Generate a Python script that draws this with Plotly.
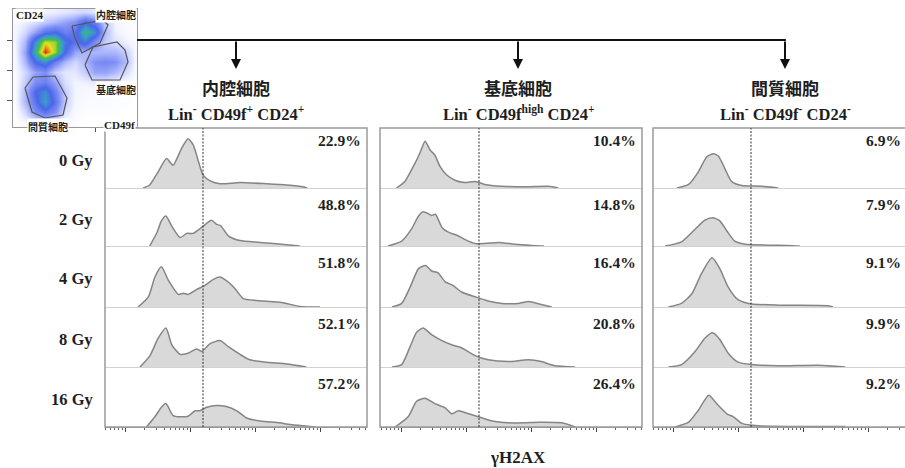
import math
import plotly.graph_objects as go

W, H = 905, 468

# ---------------- data ----------------
doses = ["0 Gy", "2 Gy", "4 Gy", "8 Gy", "16 Gy"]
populations = ["内腔細胞", "基底細胞", "間質細胞"]
phenotypes = [
    "Lin<sup>-</sup> CD49f<sup>+</sup> CD24<sup>+</sup>",
    "Lin<sup>-</sup> CD49f<sup>high</sup> CD24<sup>+</sup>",
    "Lin<sup>-</sup> CD49f<sup>-</sup> CD24<sup>-</sup>",
]
pct_luminal = ["22.9%", "48.8%", "51.8%", "52.1%", "57.2%"]
pct_basal = ["10.4%", "14.8%", "16.4%", "20.8%", "26.4%"]
pct_stromal = ["6.9%", "7.9%", "9.1%", "9.9%", "9.2%"]
gate_log = 2.2  # gH2AX positive gate (log10 fluorescence)
x_axis_title = "γH2AX"

# histograms: x = log10 gH2AX fluorescence, y = relative count
lum0_x = [1.28, 1.38, 1.51, 1.64, 1.74, 1.87, 1.97, 2.05, 2.13, 2.20, 2.31, 2.46, 2.77, 3.18, 3.49, 3.74, 3.80]
lum0_y = [0, 0.05, 0.27, 0.49, 0.38, 0.66, 0.82, 0.72, 0.44, 0.22, 0.12, 0.07, 0.09, 0.07, 0.05, 0.02, 0]
lum2_x = [1.38, 1.49, 1.56, 1.63, 1.72, 1.85, 1.95, 2.05, 2.18, 2.33, 2.41, 2.47, 2.59, 2.77, 3.08, 3.49, 3.69]
lum2_y = [0, 0.22, 0.42, 0.50, 0.33, 0.14, 0.21, 0.21, 0.31, 0.43, 0.36, 0.34, 0.17, 0.09, 0.06, 0.02, 0]
lum4_x = [1.20, 1.36, 1.46, 1.56, 1.67, 1.82, 1.90, 1.97, 2.10, 2.23, 2.36, 2.46, 2.56, 2.69, 2.82, 3.03, 3.23, 3.43, 3.69, 4.00]
lum4_y = [0, 0.17, 0.50, 0.67, 0.44, 0.21, 0.23, 0.21, 0.29, 0.36, 0.46, 0.50, 0.44, 0.31, 0.14, 0.11, 0.09, 0.07, 0.01, 0]
lum8_x = [1.23, 1.38, 1.51, 1.63, 1.72, 1.85, 1.97, 2.10, 2.18, 2.31, 2.46, 2.59, 2.77, 2.92, 3.18, 3.49, 3.79]
lum8_y = [0, 0.18, 0.48, 0.65, 0.37, 0.21, 0.23, 0.30, 0.26, 0.39, 0.44, 0.34, 0.21, 0.12, 0.08, 0.05, 0]
lum16_x = [1.33, 1.46, 1.56, 1.63, 1.74, 1.85, 1.97, 2.08, 2.15, 2.26, 2.41, 2.56, 2.72, 2.87, 3.08, 3.38, 3.54, 3.85, 3.92]
lum16_y = [0, 0.17, 0.33, 0.39, 0.19, 0.17, 0.18, 0.27, 0.27, 0.33, 0.36, 0.34, 0.27, 0.15, 0.10, 0.07, 0.04, 0.01, 0]

bas0_x = [0.93, 1.06, 1.19, 1.29, 1.37, 1.45, 1.52, 1.60, 1.70, 1.83, 1.98, 2.14, 2.29, 2.55, 2.91, 3.27, 3.42]
bas0_y = [0, 0.11, 0.36, 0.58, 0.78, 0.63, 0.55, 0.36, 0.22, 0.13, 0.09, 0.11, 0.06, 0.03, 0.02, 0.03, 0]
bas2_x = [0.80, 1.01, 1.16, 1.27, 1.34, 1.42, 1.47, 1.53, 1.63, 1.73, 1.86, 1.98, 2.14, 2.29, 2.50, 2.75, 3.01, 3.20]
bas2_y = [0, 0.08, 0.28, 0.50, 0.57, 0.54, 0.51, 0.53, 0.31, 0.23, 0.18, 0.11, 0.04, 0.04, 0.06, 0.03, 0.01, 0]
bas4_x = [0.86, 1.01, 1.14, 1.27, 1.38, 1.47, 1.57, 1.68, 1.80, 1.93, 2.14, 2.34, 2.55, 2.81, 2.96, 3.16, 3.32]
bas4_y = [0, 0.06, 0.33, 0.64, 0.69, 0.60, 0.57, 0.42, 0.36, 0.25, 0.17, 0.10, 0.06, 0.06, 0.09, 0.04, 0]
bas8_x = [0.86, 1.01, 1.14, 1.24, 1.34, 1.47, 1.63, 1.78, 1.93, 2.14, 2.34, 2.65, 2.96, 3.16, 3.37, 3.68]
bas8_y = [0, 0.04, 0.34, 0.58, 0.65, 0.54, 0.44, 0.37, 0.32, 0.19, 0.12, 0.09, 0.12, 0.09, 0.02, 0]
bas16_x = [0.91, 1.11, 1.24, 1.37, 1.52, 1.68, 1.78, 1.88, 2.04, 2.19, 2.40, 2.65, 2.91, 3.11, 3.47, 3.68]
bas16_y = [0, 0.17, 0.43, 0.48, 0.39, 0.32, 0.22, 0.27, 0.22, 0.17, 0.10, 0.07, 0.07, 0.08, 0.07, 0]

str0_x = [1.06, 1.24, 1.39, 1.52, 1.62, 1.70, 1.80, 1.90, 2.06, 2.36, 2.62]
str0_y = [0, 0.06, 0.27, 0.52, 0.57, 0.53, 0.32, 0.11, 0.04, 0.03, 0]
str2_x = [0.88, 1.13, 1.34, 1.49, 1.61, 1.72, 1.83, 1.95, 2.11, 2.77, 2.95]
str2_y = [0, 0.07, 0.28, 0.43, 0.47, 0.42, 0.25, 0.08, 0.03, 0.01, 0]
str4_x = [0.93, 1.13, 1.29, 1.44, 1.60, 1.72, 1.85, 1.98, 2.16, 2.62, 3.39, 3.46]
str4_y = [0, 0.06, 0.22, 0.56, 0.82, 0.64, 0.33, 0.14, 0.06, 0.03, 0.02, 0]
str8_x = [0.93, 1.13, 1.34, 1.49, 1.61, 1.72, 1.85, 2.00, 2.21, 2.62, 3.24, 3.65]
str8_y = [0, 0.04, 0.26, 0.48, 0.57, 0.46, 0.23, 0.08, 0.04, 0.02, 0.03, 0]
str16_x = [1.03, 1.24, 1.39, 1.55, 1.67, 1.83, 1.93, 2.06, 2.31, 3.65]
str16_y = [0, 0.08, 0.28, 0.53, 0.39, 0.22, 0.17, 0.06, 0.02, 0.01]

# inset dot-plot density (CD49f vs CD24), rows top->bottom
dens_x = [15, 25, 35, 45, 55, 65, 75, 85, 95, 105, 115, 125, 135]
dens_y = [12, 22, 32, 42, 52, 62, 72, 82, 92, 102, 112, 122]
dens_z = [
    [0.2, 0.3, 0.4, 0.5, 0.6, 0.8, 1.0, 1.2, 0.8, 0.4, 0.2, 0.1, 0],
    [0.3, 0.6, 1.0, 1.5, 2.0, 2.5, 3.0, 4.5, 3.5, 1.5, 0.5, 0.2, 0.1],
    [0.4, 1.2, 2.5, 4.0, 4.5, 3.5, 4.0, 7.0, 5.5, 2.0, 0.6, 0.3, 0.1],
    [0.5, 2.0, 5.5, 8.5, 8.0, 5.0, 4.0, 5.0, 3.0, 1.5, 1.0, 0.6, 0.2],
    [0.4, 2.5, 6.5, 10.0, 8.0, 4.5, 2.5, 2.0, 2.0, 2.0, 2.0, 1.5, 0.4],
    [0.3, 2.0, 4.5, 5.5, 3.5, 2.0, 1.2, 2.0, 3.0, 3.2, 3.0, 2.0, 0.4],
    [0.3, 1.2, 2.5, 3.0, 1.5, 0.8, 0.8, 1.5, 2.5, 2.5, 2.0, 1.2, 0.3],
    [0.2, 1.5, 3.0, 3.5, 2.5, 1.0, 0.5, 0.6, 0.8, 0.8, 0.5, 0.3, 0.1],
    [0.2, 2.0, 4.5, 5.5, 3.5, 1.5, 0.5, 0.3, 0.3, 0.3, 0.2, 0.1, 0],
    [0.2, 2.0, 4.0, 6.0, 4.0, 1.5, 0.4, 0.2, 0.2, 0.2, 0.1, 0.1, 0],
    [0.1, 1.2, 3.0, 4.0, 3.0, 1.0, 0.3, 0.1, 0.1, 0.1, 0.1, 0, 0],
    [0, 0.4, 1.0, 1.5, 1.0, 0.3, 0.1, 0, 0, 0, 0, 0, 0],
]
gate_lum_x = [72, 103, 108, 100, 82, 75, 72]
gate_lum_y = [26, 20, 25, 43, 53, 38, 26]
gate_bas_x = [85, 93, 117, 125, 128, 120, 92, 85]
gate_bas_y = [65, 47, 42, 50, 62, 80, 80, 65]
gate_str_x = [25, 33, 55, 67, 63, 45, 32, 25]
gate_str_y = [88, 77, 76, 98, 115, 118, 112, 88]

curves_x = [[lum0_x, lum2_x, lum4_x, lum8_x, lum16_x],
            [bas0_x, bas2_x, bas4_x, bas8_x, bas16_x],
            [str0_x, str2_x, str4_x, str8_x, str16_x]]
curves_y = [[lum0_y, lum2_y, lum4_y, lum8_y, lum16_y],
            [bas0_y, bas2_y, bas4_y, bas8_y, bas16_y],
            [str0_y, str2_y, str4_y, str8_y, str16_y]]
pcts = [pct_luminal, pct_basal, pct_stromal]

# ---------------- layout geometry (pixels) ----------------
col_left = [105, 380, 653]
col_right = [367, 642, 915]
col_tick1 = [125, 401, 673]
row_edges = [128, 188, 246, 307, 367, 427]
PX_DEC = 65.0
SERIF = "Liberation Serif"
CJK = "Noto Sans CJK JP"

def px(x):
    return x / W

def py(y):
    return 1 - y / H

fig = go.Figure()
layout = {}
shapes = []
annotations = []

def note(text, x, y, xa="center", ya="middle", fam=SERIF, size=15, **kw):
    d = dict(text=text, xref="paper", yref="paper", x=px(x), y=py(y),
             xanchor=xa, yanchor=ya, showarrow=False,
             font=dict(family=fam, size=size, color="#1e1e1e"))
    d.update(kw)
    annotations.append(d)

major = [1, 2, 3, 4]
minor = []
for d in range(0, 5):
    for k in range(2, 10):
        v = d + math.log10(k)
        if 0.6 < v < 4.8:
            minor.append(v)

for c in range(3):
    lft = col_left[c]
    rgt = min(col_right[c], W)
    x0 = 1 - (col_tick1[c] - lft) / PX_DEC
    x1 = x0 + (rgt - lft) / PX_DEC
    for r in range(5):
        k = r * 3 + c + 1
        sx = "" if k == 1 else str(k)
        top, bot = row_edges[r], row_edges[r + 1]
        fig.add_trace(go.Scatter(
            x=curves_x[c][r], y=curves_y[c][r], mode="lines",
            line=dict(color="#858585", width=1.5, shape="spline", smoothing=0.6),
            fill="tozeroy", fillcolor="#d9d9d9",
            xaxis="x" + sx, yaxis="y" + sx, showlegend=False, hoverinfo="skip"))
        xa = dict(domain=[px(lft), px(rgt)], range=[x0, x1], anchor="y" + sx,
                  showgrid=False, zeroline=False, showticklabels=False,
                  showline=True, linewidth=1)
        if r < 4:
            xa.update(linecolor="#d2d2d2", ticks="")
        else:
            xa.update(linecolor="#9a9a9a", ticks="outside", tickvals=major,
                      ticklen=4, tickcolor="#444", tickwidth=1,
                      minor=dict(tickvals=minor, ticks="outside", ticklen=2,
                                 tickcolor="#666", tickwidth=1, showgrid=False))
        layout["xaxis" + sx] = xa
        layout["yaxis" + sx] = dict(domain=[py(bot), py(top)], range=[0, (bot - top) / 60.0],
                                    anchor="x" + sx, visible=False, fixedrange=True)
        off = 12 if r == 0 else 16
        note("<b>%s</b>" % pcts[c][r], min(col_right[c], W + 2) - 4, top + off, xa="right", size=15.5)
    shapes.append(dict(type="rect", xref="paper", yref="paper",
                       x0=px(lft), x1=px(col_right[c]), y0=py(row_edges[-1]), y1=py(row_edges[0]),
                       line=dict(color="#9a9a9a", width=1.5), layer="above"))
    kb = 12 + c + 1
    shapes.append(dict(type="line", xref="x%d" % kb, yref="paper",
                       x0=gate_log, x1=gate_log, y0=py(row_edges[-1]), y1=py(row_edges[0]),
                       line=dict(color="#333", width=1, dash="2px,1.5px"), layer="above"))

# column titles & arrows
title_x = [236, 518, 785]
for c in range(3):
    note("<b>%s</b>" % populations[c], title_x[c], 87, fam=CJK, size=17)
    note("<b>%s</b>" % phenotypes[c], title_x[c], 113, size=16.5)
    annotations.append(dict(text="", xref="paper", yref="paper", x=px(title_x[c]), y=py(69),
                            ax=0, ay=-29, showarrow=True, arrowhead=2, arrowsize=1,
                            arrowwidth=2, arrowcolor="#111"))
shapes.append(dict(type="line", xref="paper", yref="paper", x0=px(137), x1=px(title_x[2]) + 0.001,
                   y0=py(40), y1=py(40), line=dict(color="#111", width=2)))

for r in range(5):
    cy = (row_edges[r] + row_edges[r + 1]) / 2 + 2
    note("<b>%s</b>" % doses[r], 95, cy, xa="right", size=16.5)

note("<b>%s</b>" % x_axis_title, 518, 457, size=17)

# ---------------- inset dot plot ----------------
fig.add_trace(go.Heatmap(
    x=dens_x, y=dens_y, z=dens_z, zmin=0, zmax=10, zsmooth="best", showscale=False,
    colorscale=[[0, "#ffffff"], [0.05, "#f2f4ff"], [0.15, "#c4ccff"], [0.3, "#7d8ef4"],
                [0.45, "#4a66ea"], [0.6, "#3aa0c8"], [0.72, "#44c044"], [0.86, "#e4e020"],
                [1, "#e02a10"]],
    xaxis="x16", yaxis="y16", hoverinfo="skip"))
for gx, gy in [(gate_lum_x, gate_lum_y), (gate_bas_x, gate_bas_y), (gate_str_x, gate_str_y)]:
    fig.add_trace(go.Scatter(x=gx, y=gy, mode="lines", line=dict(color="#555", width=1.2),
                             xaxis="x16", yaxis="y16", showlegend=False, hoverinfo="skip"))
layout["xaxis16"] = dict(domain=[px(13), px(137)], range=[13, 137], anchor="y16",
                         showgrid=False, zeroline=False, showticklabels=False,
                         showline=True, mirror=True, linecolor="#999", linewidth=1,
                         ticks="outside", tickvals=[53, 95], ticklen=4, tickcolor="#555")
layout["yaxis16"] = dict(domain=[py(127), py(9)], range=[127, 9], anchor="x16",
                         showgrid=False, zeroline=False, showticklabels=False,
                         showline=True, mirror=True, linecolor="#999", linewidth=1,
                         ticks="outside", tickvals=[40, 70, 100], ticklen=5, tickcolor="#555")
inset_labels = [("CD24", 15, 15, "left", SERIF, 11),
                ("内腔細胞", 137, 14, "right", CJK, 10),
                ("基底細胞", 137, 89, "right", CJK, 10),
                ("間質細胞", 27, 127, "left", CJK, 10),
                ("CD49f", 136, 125, "right", SERIF, 11)]
for t, x, y, anc, fam, sz in inset_labels:
    note("<b>%s</b>" % t, x, y, xa=anc, fam=fam, size=sz, bgcolor="white", borderpad=0)

fig.update_layout(width=W, height=H, margin=dict(l=0, r=0, t=0, b=0),
                  paper_bgcolor="white", plot_bgcolor="rgba(0,0,0,0)",
                  shapes=shapes, annotations=annotations, showlegend=False, **layout)
fig.write_html("out.html", config={"displayModeBar": False})
